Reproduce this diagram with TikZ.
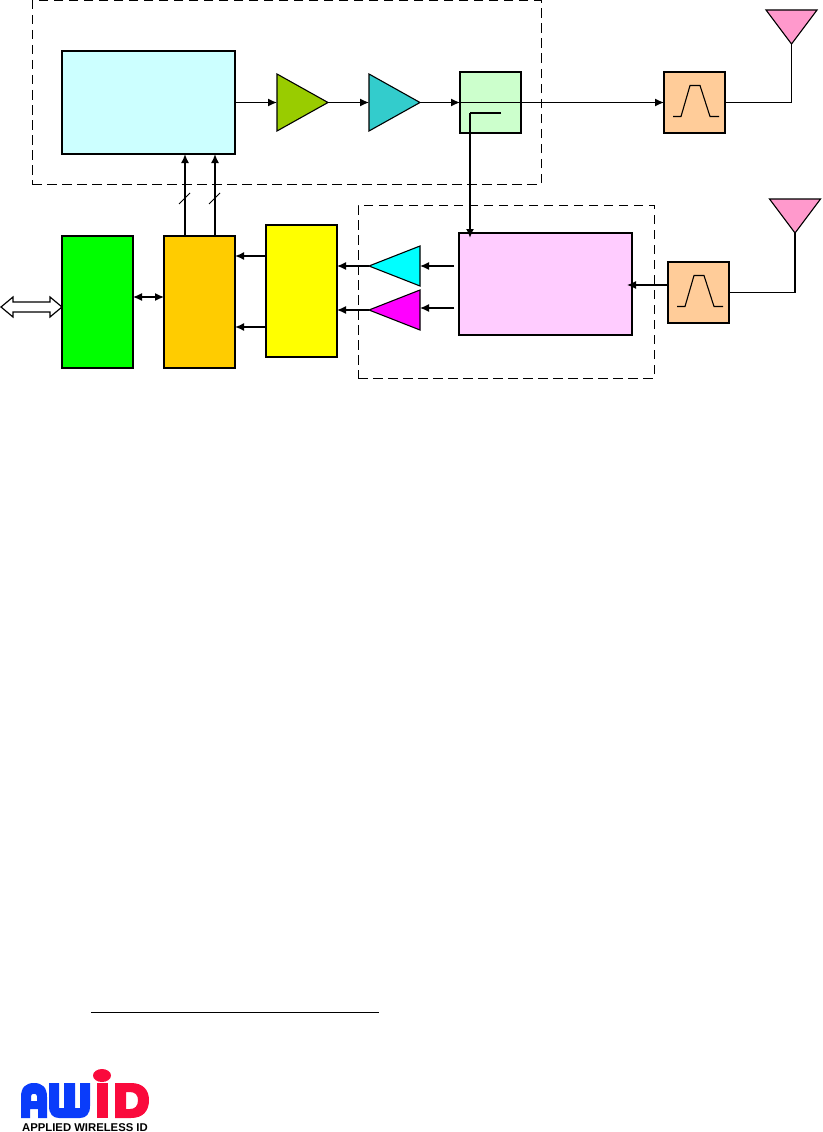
\documentclass[tikz,border=0pt]{standalone}
\usepackage{fontspec}
\setmainfont{Liberation Sans}
\definecolor{txcyan}{RGB}{204,255,255}
\definecolor{ampgreen}{RGB}{153,204,0}
\definecolor{ampteal}{RGB}{51,204,204}
\definecolor{cplgreen}{RGB}{204,255,204}
\definecolor{filtorange}{RGB}{255,204,153}
\definecolor{antpink}{RGB}{255,153,204}
\definecolor{ctrlorange}{RGB}{255,204,0}
\definecolor{rxpink}{RGB}{255,204,255}
\definecolor{ampcyan}{RGB}{0,255,255}
\definecolor{ampmagenta}{RGB}{255,0,255}
\definecolor{adcyellow}{RGB}{255,255,0}
\definecolor{hostgreen}{RGB}{0,255,0}
\definecolor{logoblue}{RGB}{10,60,250}
\definecolor{logored}{RGB}{250,10,60}
\usetikzlibrary{shapes.geometric,arrows.meta,positioning}

\begin{document}
\begin{tikzpicture}[
    x=1pt, y=-1pt,
    node distance = 42pt and 41pt,
    block/.style = {draw, line width=1.4pt, inner sep=0pt, outer sep=0pt},
    filt/.style  = {block, fill=filtorange, minimum width=61pt, minimum height=61pt},
    amp/.style   = {draw, line width=1.1pt, isosceles triangle, isosceles triangle stretches,
                    inner sep=0pt, outer sep=0pt, minimum width=57pt, minimum height=51pt},
    rxamp/.style = {amp, shape border rotate=180, minimum width=40pt, anchor=apex},
    ant/.style   = {amp, shape border rotate=270, fill=antpink, minimum width=51pt, minimum height=34pt, anchor=apex},
    arr/.style   = {-{Latex[length=9pt,width=8pt]}, line width=1.3pt},
    wire/.style  = {line width=1.3pt},
    frame/.style = {draw, line width=1pt, dash pattern=on 9.5pt off 5.5pt},
  ]
    \useasboundingbox (0,0) rectangle (822,1132);

    % transmit chain
    \node[block, fill=txcyan, minimum width=173pt, minimum height=103pt] (txbox) at (148.5,102.5) {};
    \node[amp, fill=ampgreen, right=42pt of txbox] (ampa) {};
    \node[amp, fill=ampteal, right=41pt of ampa]   (ampb) {};
    \node[block, fill=cplgreen, minimum width=61pt, minimum height=61pt, right=40pt of ampb] (cpl) {};
    \node[filt, right=143pt of cpl] (ftx) {};
    \node[ant] (anttx) at (791.5,44) {};

    % receive chain
    \node[block, fill=rxpink, minimum width=173pt, minimum height=102pt] (rxbox) at (545.5,284) {};
    \node[filt, right=36pt of rxbox, yshift=-8.5pt] (frx) {};
    \node[ant] (antrx) at (795,233) {};
    \node[rxamp, fill=ampcyan]    (ampi) at (369,266) {};
    \node[rxamp, fill=ampmagenta] (ampq) at (369,310) {};

    % baseband
    \node[block, fill=adcyellow, minimum width=71pt, minimum height=132pt] (adc) at (301.5,291) {};
    \node[block, fill=ctrlorange, minimum width=71pt, minimum height=132pt] (ctrl) at (199.5,302) {};
    \node[block, fill=hostgreen, minimum width=71pt, minimum height=132pt, left=31pt of ctrl] (host) {};

    % dashed frames
    \node[frame, minimum width=509pt, minimum height=183pt, inner sep=0pt] (txframe) at (286.5,92.5) {};
    \node[frame, minimum width=296pt, minimum height=173pt, inner sep=0pt] (rxframe) at (506,291.5) {};

    % free ends
    \coordinate (rxi)  at (454,266);
    \coordinate (rxq)  at (454,308);
    \coordinate (tapa) at (501,113);
    \coordinate (tapb) at (470,113);
    \coordinate (tapc) at (470,238);
    \coordinate (rxin) at (627,285);

    \draw[arr]  (txbox) -- (ampa);
    \draw[arr]  (ampa.east) -- (ampb.west);
    \draw[arr]  (ampb.east) -- (cpl.west);
    \draw[arr]  (cpl.west) -- (ftx.west);
    \draw[wire, line width=1.8pt] (ftx.east) -| (anttx.apex);
    \draw[wire, line width=1.8pt] (tapa) -- (tapb);
    \draw[arr, line width=1.8pt]  (tapb) -- (tapc);

    \draw[wire, line width=1.6pt] (antrx.apex) |- (frx.east);
    \draw[arr]  (frx.west |- rxin) -- (rxin);
    \draw[arr]  (rxi) -- (rxi -| ampi.east);
    \draw[arr]  (rxq) -- (rxq -| ampq.east);
    \draw[arr]  (ampi.apex) -- (ampi.apex -| adc.east);
    \draw[arr]  (ampq.apex) -- (ampq.apex -| adc.east);
    \draw[arr, line width=1.6pt] (adc.west |- 0,256) -- (ctrl.east |- 0,256);
    \draw[arr, line width=1.6pt] (adc.west |- 0,327) -- (ctrl.east |- 0,327);
    \draw[{Latex[length=9pt,width=8pt]}-{Latex[length=9pt,width=8pt]}, line width=1.3pt]
      (host.east |- 0,297) -- (ctrl.west |- 0,297);
    \foreach \xb in {185,215} {
      \draw[arr, line width=1.6pt] (ctrl.north -| \xb,0) -- (txbox.south -| \xb,0);
      \draw[line width=0.9pt] (\xb-6,204) -- (\xb+5,193);
    }

    % filter curves
    \foreach \f in {ftx,frx} {
      \draw[line width=1.1pt] ([shift={(-21.5,14)}]\f.center) -- ++(8,0) -- ++(9,-31)
        -- ++(10,0) -- ++(10,31) -- ++(9,0);
    }

    % host bus
    \draw[line width=1.2pt, fill=white] (1,307) -- (13,297) -- (13,302) -- (50,302) -- (50,297)
      -- (62,307) -- (50,317) -- (50,312) -- (13,312) -- (13,317) -- cycle;

    % footer rule and logo
    \node[inner sep=0pt, minimum width=288pt, minimum height=0pt] (rule) at (235,1012.5) {};
    \draw[line width=1.2pt] (rule.west) -- (rule.east);

    \fill[logoblue, even odd rule] (21,1118) -- (21,1097) .. controls (21,1087) and (26,1083) .. (34,1083)
      .. controls (42,1083) and (47,1087) .. (47,1097) -- (47,1118) -- (38,1118) -- (38,1109) -- (30,1109) -- (30,1118) -- cycle
      (31,1101) -- (31,1096) .. controls (31,1093) and (37,1093) .. (37,1096) -- (37,1101) -- cycle;
    \fill[logoblue] (49,1083) -- (59,1083) -- (59,1108) -- (64,1108) -- (64,1083) -- (75,1083) -- (75,1108) -- (80,1108)
      -- (80,1083) -- (90,1083) -- (90,1106) .. controls (90,1114) and (86,1118) .. (80,1118) -- (59,1118)
      .. controls (53,1118) and (49,1114) .. (49,1106) -- cycle;
    \fill[logored] (97,1083) rectangle (108,1118);
    \fill[logored] (102,1075.5) ellipse [x radius=9, y radius=6.5];
    \fill[logored, even odd rule] (115,1083) -- (131,1083) .. controls (143,1083) and (149,1090) .. (149,1100)
      .. controls (149,1111) and (143,1118) .. (131,1118) -- (115,1118) -- cycle
      (126,1092) -- (126,1109) -- (130,1109) .. controls (135,1109) and (138,1106) .. (138,1100)
      .. controls (138,1095) and (135,1092) .. (130,1092) -- cycle;
    \node[font=\bfseries\fontsize{11.3}{12}\selectfont, inner sep=0pt] (logotext) at (85,1127.5) {APPLIED WIRELESS ID};
  \end{tikzpicture}
\end{document}
